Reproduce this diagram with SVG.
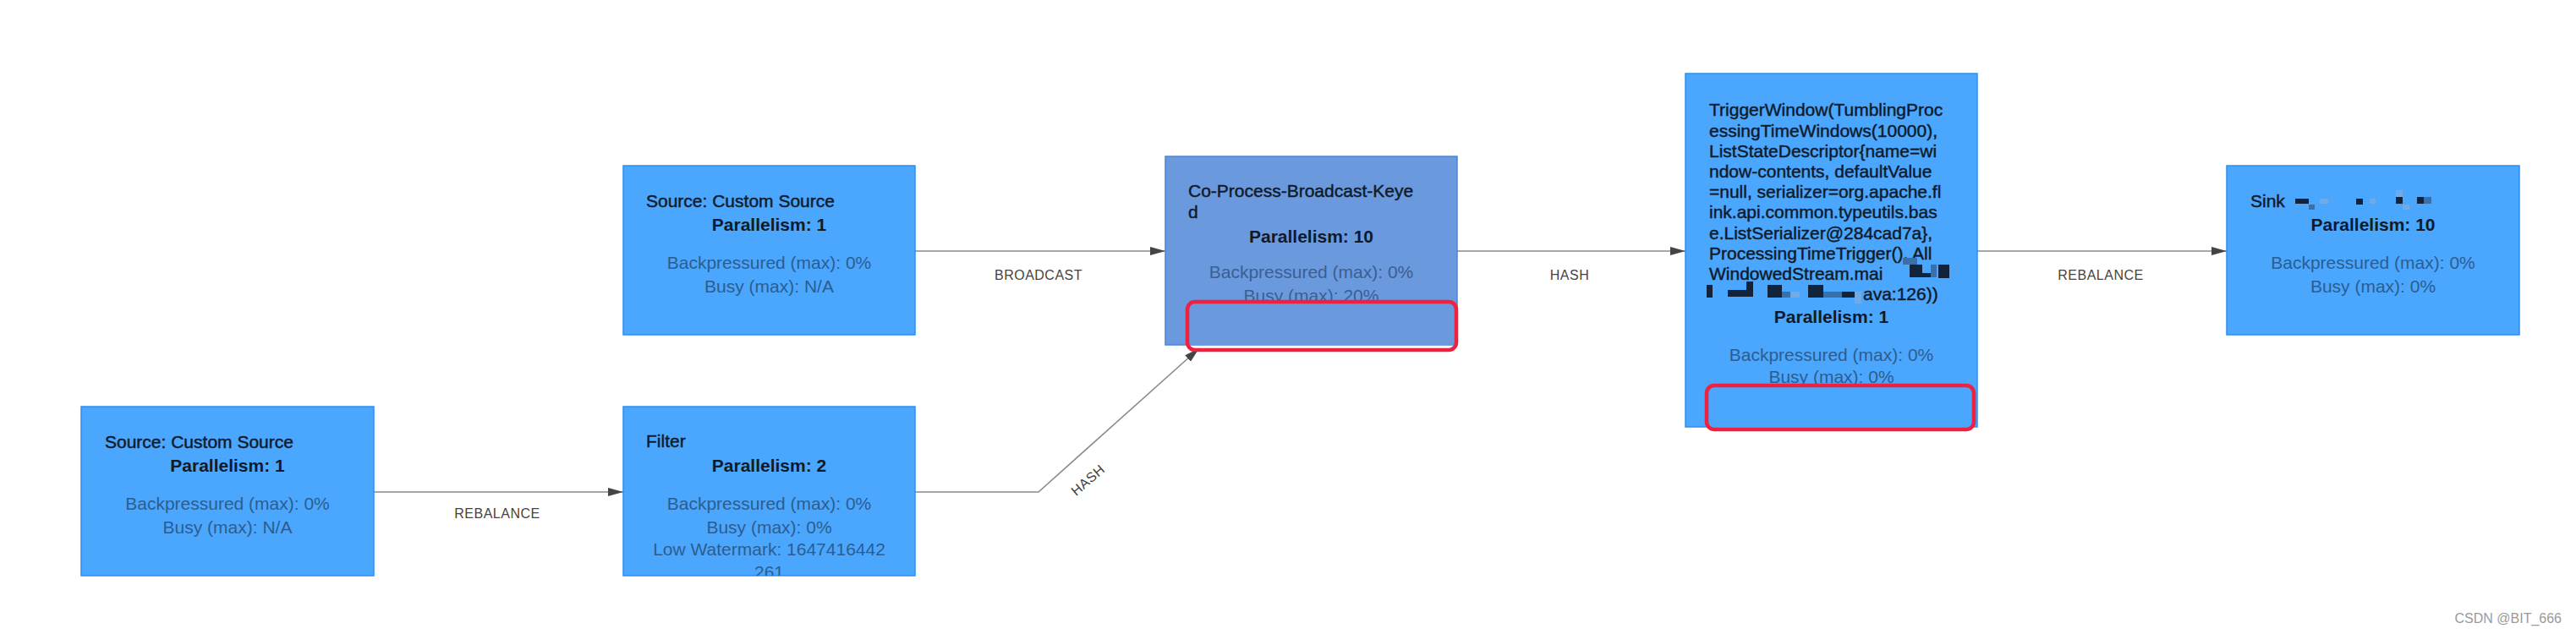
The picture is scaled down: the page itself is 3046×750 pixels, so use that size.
<svg xmlns="http://www.w3.org/2000/svg" width="3046" height="750" viewBox="0 0 3046 750">
<style>
.node{fill:#4ba6fd;stroke:#2b8ef2;stroke-width:1.5}
.hot{fill:#6a99dd;stroke:#4a86d6;stroke-width:1.5}
.title{font-family:"Liberation Sans",Arial,sans-serif;font-size:21px;fill:#0f1b2b;stroke:#0f1b2b;stroke-width:0.45px}
.par{font-family:"Liberation Sans",Arial,sans-serif;font-size:21px;font-weight:bold;fill:#0f1b2b;text-anchor:middle}
.body{font-family:"Liberation Sans",Arial,sans-serif;font-size:21px;fill:#2c5d90;text-anchor:middle}
.lbl{font-family:"Liberation Sans",Arial,sans-serif;font-size:16px;fill:#444;text-anchor:middle;letter-spacing:0.5px}
.edge{fill:none;stroke:#8a8a8a;stroke-width:1.6}
.hl{fill:none;stroke:#ee2140;stroke-width:4.5}
.dk{fill:#13233a}
.md{fill:#3a6fa8}
.lt{fill:#72aae6}
</style>
<defs>
<marker id="arr" viewBox="0 0 18 10" refX="18" refY="5" markerWidth="18" markerHeight="10" markerUnits="userSpaceOnUse" orient="auto">
<path d="M0,0 L18,5 L0,10 z" fill="#444"/>
</marker>
<clipPath id="clipFilter"><rect x="737" y="481" width="345" height="200"/></clipPath>
</defs>
<rect width="3046" height="750" fill="#fff"/>

<g id="connectors">
<path class="edge" d="M442,582 L737,582" marker-end="url(#arr)"/>
<text class="lbl" x="588" y="613">REBALANCE</text>
<path class="edge" d="M1082,297 L1378,297" marker-end="url(#arr)"/>
<text class="lbl" x="1228" y="331">BROADCAST</text>
<path class="edge" d="M1082,582 L1228,582 L1418,412" marker-end="url(#arr)"/>
<text class="lbl" transform="translate(1290,572) rotate(-41)" x="0" y="0">HASH</text>
<path class="edge" d="M1723,297 L1993,297" marker-end="url(#arr)"/>
<text class="lbl" x="1856" y="331">HASH</text>
<path class="edge" d="M2338,297 L2633,297" marker-end="url(#arr)"/>
<text class="lbl" x="2484" y="331">REBALANCE</text>
</g>

<g id="source1">
<rect class="node" x="96" y="481" width="346" height="200"/>
<text class="title" x="124" y="530">Source: Custom Source</text>
<text class="par" x="269" y="558">Parallelism: 1</text>
<text class="body" x="269" y="603">Backpressured (max): 0%</text>
<text class="body" x="269" y="631">Busy (max): N/A</text>
</g>

<g id="source2">
<rect class="node" x="737" y="196" width="345" height="200"/>
<text class="title" x="764" y="245">Source: Custom Source</text>
<text class="par" x="909.5" y="273">Parallelism: 1</text>
<text class="body" x="909.5" y="318">Backpressured (max): 0%</text>
<text class="body" x="909.5" y="346">Busy (max): N/A</text>
</g>

<g id="filter">
<rect class="node" x="737" y="481" width="345" height="200"/>
<g clip-path="url(#clipFilter)">
<text class="title" x="764" y="529">Filter</text>
<text class="par" x="909.5" y="558">Parallelism: 2</text>
<text class="body" x="909.5" y="603">Backpressured (max): 0%</text>
<text class="body" x="909.5" y="631">Busy (max): 0%</text>
<text class="body" x="909.5" y="657">Low Watermark: 1647416442</text>
<text class="body" x="909.5" y="684">261</text>
</g>
</g>

<g id="coprocess">
<rect class="hot" x="1378" y="185" width="345" height="223"/>
<text class="title" x="1405" y="233">Co-Process-Broadcast-Keye</text>
<text class="title" x="1405" y="258">d</text>
<text class="par" x="1550.5" y="287">Parallelism: 10</text>
<text class="body" x="1550.5" y="329" style="fill:#3a5f93">Backpressured (max): 0%</text>
<text class="body" x="1550.5" y="357" style="fill:#3a5f93">Busy (max): 20%</text>
<rect x="1406" y="359" width="316" height="49" fill="#6a99dd"/>
<rect class="hl" x="1404" y="357" width="318" height="57" rx="9"/>
</g>

<g id="triggerwindow">
<rect class="node" x="1993" y="87" width="345" height="418"/>
<text class="title" x="2021" y="137">TriggerWindow(TumblingProc</text>
<text class="title" x="2021" y="162">essingTimeWindows(10000),</text>
<text class="title" x="2021" y="186">ListStateDescriptor{name=wi</text>
<text class="title" x="2021" y="210">ndow-contents, defaultValue</text>
<text class="title" x="2021" y="234">=null, serializer=org.apache.fl</text>
<text class="title" x="2021" y="258">ink.api.common.typeutils.bas</text>
<text class="title" x="2021" y="283">e.ListSerializer@284cad7a},</text>
<text class="title" x="2021" y="307">ProcessingTimeTrigger(), All</text>
<text class="title" x="2021" y="331">WindowedStream.mai</text>
<text class="title" x="2203" y="355">ava:126))</text>
<rect class="md" x="2250" y="305" width="17" height="8"/>
<rect class="dk" x="2258" y="313" width="15" height="15"/>
<rect class="dk" x="2273" y="323" width="10" height="5"/>
<rect class="md" x="2283" y="313" width="7" height="15"/>
<rect class="dk" x="2292" y="313" width="13" height="16"/>
<rect class="dk" x="2018" y="337" width="7" height="15"/>
<rect class="dk" x="2043" y="343" width="30" height="8"/>
<rect class="dk" x="2065" y="333" width="8" height="10"/>
<rect class="dk" x="2090" y="337" width="17" height="15"/>
<rect class="md" x="2107" y="345" width="10" height="7"/>
<rect class="lt" x="2117" y="345" width="11" height="7"/>
<rect class="dk" x="2138" y="337" width="18" height="15"/>
<rect class="md" x="2156" y="345" width="10" height="7"/>
<rect class="md" x="2166" y="345" width="12" height="7"/>
<rect class="dk" x="2178" y="345" width="15" height="7"/>
<rect class="lt" x="2193" y="345" width="8" height="14"/>
<text class="par" x="2165.5" y="382">Parallelism: 1</text>
<text class="body" x="2165.5" y="427">Backpressured (max): 0%</text>
<text class="body" x="2165.5" y="453">Busy (max): 0%</text>
<rect x="2020" y="458" width="312" height="47" fill="#4ba6fd"/>
<rect class="hl" x="2018" y="456" width="316" height="52" rx="9"/>
</g>

<g id="sink">
<rect class="node" x="2633" y="196" width="346" height="200"/>
<text class="title" x="2661" y="245">Sink</text>
<rect class="dk" x="2714" y="235" width="16" height="6"/>
<rect class="md" x="2730" y="242" width="7" height="6"/>
<rect class="lt" x="2743" y="235" width="10" height="6"/>
<rect class="dk" x="2786" y="235" width="8" height="7"/>
<rect class="lt" x="2802" y="235" width="7" height="6"/>
<rect class="lt" x="2833" y="225" width="8" height="8"/>
<rect class="dk" x="2833" y="233" width="8" height="8"/>
<rect class="lt" x="2841" y="242" width="8" height="6"/>
<rect class="dk" x="2858" y="233" width="8" height="8"/>
<rect class="md" x="2866" y="233" width="9" height="8"/>
<text class="par" x="2806" y="273">Parallelism: 10</text>
<text class="body" x="2806" y="318">Backpressured (max): 0%</text>
<text class="body" x="2806" y="346">Busy (max): 0%</text>
</g>

<text x="3029" y="737" text-anchor="end" font-family="Liberation Sans, Arial, sans-serif" font-size="16" fill="#9a9a9a">CSDN @BIT_666</text>
</svg>
